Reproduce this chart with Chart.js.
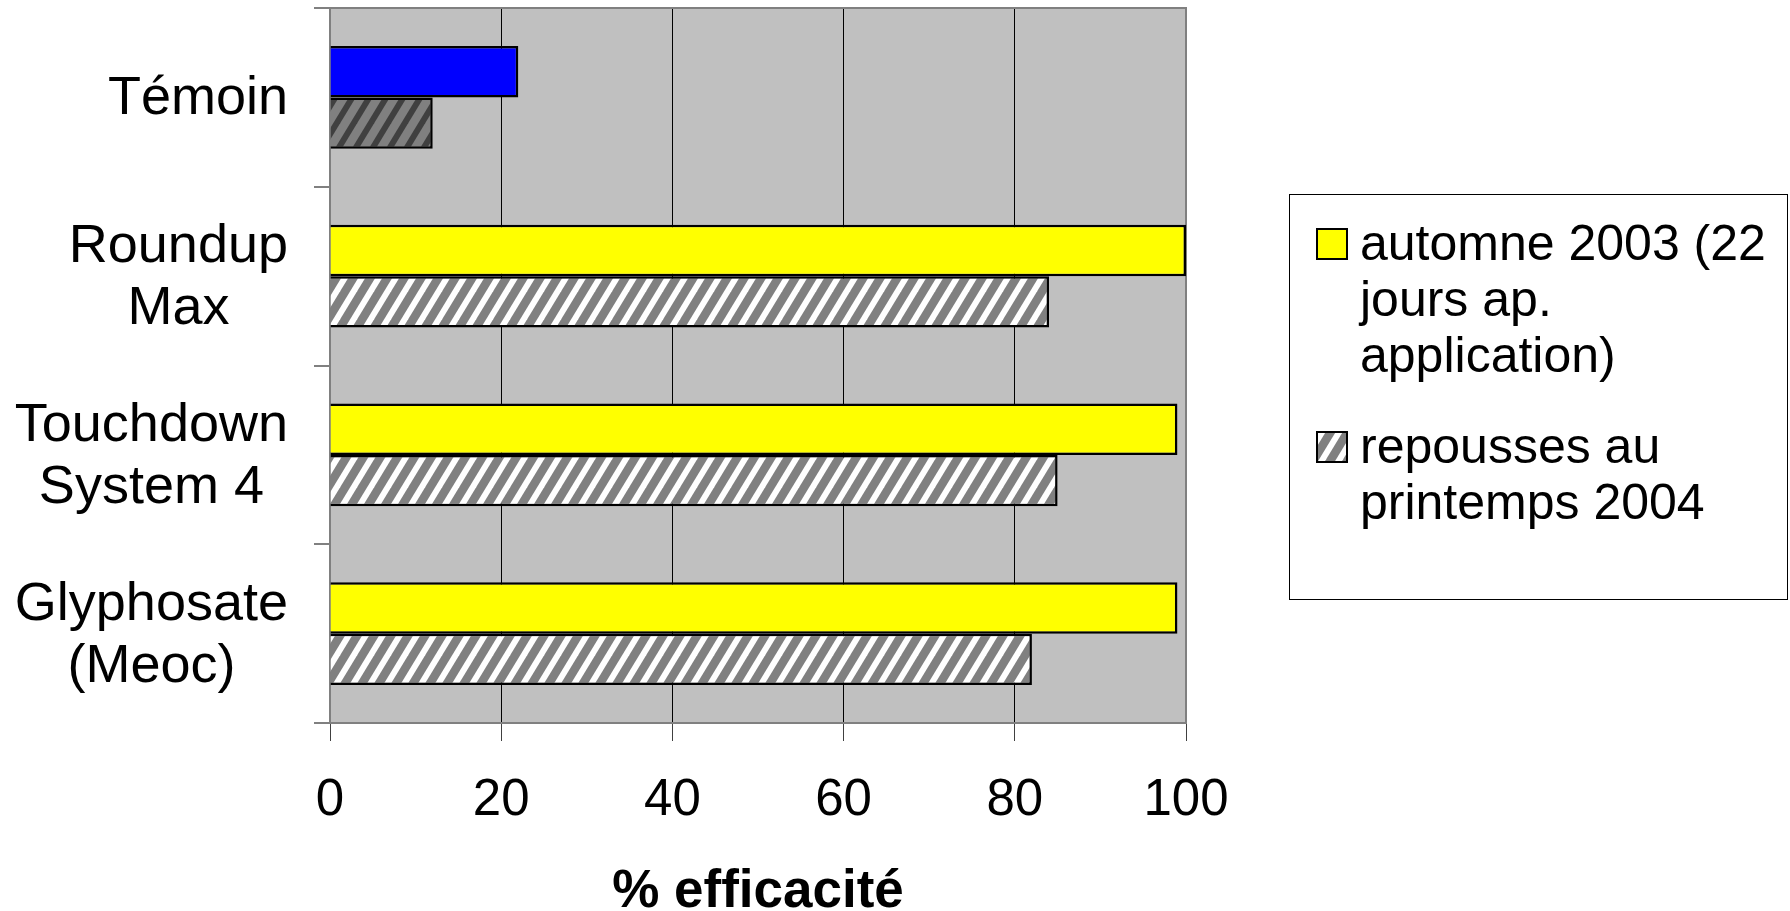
<!DOCTYPE html>
<html>
<head>
<meta charset="utf-8">
<script src="https://cdn.jsdelivr.net/npm/chart.js@4"></script>
<style>
    html, body { margin: 0; padding: 0; background: #fff; }
    #wrap { width: 1790px; height: 911px; }
</style>
</head>
<body>
<div id="wrap"><canvas id="effChart"></canvas></div>
<script>
// Données
const categories = [['Témoin'], ['Roundup', 'Max'], ['Touchdown', 'System 4'], ['Glyphosate', '(Meoc)']];
const automne2003 = [22, 100, 99, 99];
const printemps2004 = [12, 84, 85, 82];
const seriesLabels = [['automne 2003 (22', 'jours ap.', 'application)'], ['repousses au', 'printemps 2004']];
const xTicks = [0, 20, 40, 60, 80, 100];
const xTitle = '% efficacité';

const FONT = '"Liberation Sans", Arial, sans-serif';

/**
 * Motif hachuré (diagonales montantes)
 */
function makeHatch(base, stripe) {
    const w = 17, h = 28, s = 7;
    const c = document.createElement('canvas');
    c.width = w;
    c.height = h;
    const g = c.getContext('2d');
    g.fillStyle = base;
    g.fillRect(0, 0, w, h);
    g.fillStyle = stripe;
    [0, -w].forEach(dx => {
        g.beginPath();
        g.moveTo(dx, h);
        g.lineTo(dx + s, h);
        g.lineTo(dx + w + s, 0);
        g.lineTo(dx + w, 0);
        g.closePath();
        g.fill();
    });
    return g.createPattern(c, 'repeat');
}

const hatchLight = makeHatch('#808080', '#ffffff');
const hatchDark = makeHatch('#808080', '#404040');

// Fond gris de la zone de tracé + cadre
const plotArea = {
    id: 'plotArea',
    beforeDraw(chart) {
        const { ctx, chartArea: a } = chart;
        ctx.save();
        ctx.fillStyle = '#C0C0C0';
        ctx.fillRect(a.left, a.top, a.right - a.left, a.bottom - a.top);
        ctx.restore();
    },
    beforeDatasetsDraw(chart) {
        const { ctx, chartArea: a } = chart;
        ctx.save();
        ctx.strokeStyle = '#808080';
        ctx.lineWidth = 2;
        ctx.beginPath();
        ctx.moveTo(a.left - 16, a.top);
        ctx.lineTo(a.right, a.top);
        ctx.lineTo(a.right, a.bottom);
        ctx.stroke();
        ctx.restore();
    },
};

// Libellés des catégories, centrés ligne par ligne, bloc aligné à droite
const categoryLabels = {
    id: 'categoryLabels',
    afterDraw(chart) {
        const { ctx } = chart;
        const yScale = chart.scales.y;
        const right = chart.chartArea.left - 42;
        const lh = 62;
        ctx.save();
        ctx.font = '54px ' + FONT;
        ctx.fillStyle = '#000';
        ctx.textAlign = 'center';
        ctx.textBaseline = 'middle';
        categories.forEach((lines, i) => {
            const widths = lines.map(l => ctx.measureText(l).width);
            const cx = right - Math.max(...widths) / 2;
            const cy = yScale.getPixelForValue(i);
            lines.forEach((l, j) => {
                ctx.fillText(l, cx, cy + (j - (lines.length - 1) / 2) * lh + 2);
            });
        });
        ctx.restore();
    },
};

// Légende encadrée à droite
const boxLegend = {
    id: 'boxLegend',
    afterDraw(chart) {
        const { ctx } = chart;
        const fills = ['#FFFF00', hatchLight];
        const firstBaseline = [260, 463];
        ctx.save();
        ctx.strokeStyle = '#000';
        ctx.lineWidth = 1;
        ctx.strokeRect(1289.5, 194.5, 498, 405);
        ctx.font = '50px ' + FONT;
        ctx.fillStyle = '#000';
        ctx.textAlign = 'left';
        ctx.textBaseline = 'alphabetic';
        seriesLabels.forEach((lines, i) => {
            const by = firstBaseline[i];
            ctx.fillStyle = fills[i];
            ctx.fillRect(1317, by - 31, 30, 30);
            ctx.strokeStyle = '#000';
            ctx.lineWidth = 2;
            ctx.strokeRect(1317, by - 31, 30, 30);
            ctx.fillStyle = '#000';
            lines.forEach((l, j) => {
                ctx.fillText(l, 1360, by + j * 56);
            });
        });
        ctx.restore();
    },
};

const ctx = document.getElementById('effChart').getContext('2d');

new Chart(ctx, {
    type: 'bar',
    data: {
        labels: categories,
        datasets: [
            {
                label: seriesLabels[0].join(' '),
                data: automne2003,
                backgroundColor: ['#0000FF', '#FFFF00', '#FFFF00', '#FFFF00'],
                borderColor: '#000',
                borderWidth: 2.5,
            },
            {
                label: seriesLabels[1].join(' '),
                data: printemps2004,
                backgroundColor: [hatchDark, hatchLight, hatchLight, hatchLight],
                borderColor: '#000',
                borderWidth: 2.5,
            },
        ],
    },
    options: {
        indexAxis: 'y',
        responsive: true,
        maintainAspectRatio: false,
        animation: false,
        datasets: {
            bar: {
                categoryPercentage: 0.575,
                barPercentage: 1.0,
            },
        },
        layout: {
            padding: { top: 8, right: 604, bottom: 0, left: 0 },
        },
        plugins: {
            legend: { display: false },
            tooltip: { enabled: false },
        },
        scales: {
            x: {
                min: 0,
                max: 100,
                afterBuildTicks: (scale) => {
                    scale.ticks = xTicks.map(v => ({ value: v }));
                },
                afterFit: (scale) => { scale.height = 188; },
                border: { color: '#808080', width: 2 },
                grid: {
                    color: (c) => (c.index === 0 || c.index === xTicks.length - 1) ? '#808080' : '#000',
                    tickColor: '#404040',
                    lineWidth: 1,
                    tickLength: 18,
                },
                ticks: {
                    color: '#000',
                    padding: 29,
                    maxRotation: 0,
                    font: { family: FONT, size: 51, lineHeight: 1.2 },
                },
                title: {
                    display: true,
                    text: xTitle,
                    color: '#000',
                    padding: { top: 0, bottom: 0 },
                    font: { family: FONT, size: 53, weight: 'bold', lineHeight: 0.7 },
                },
            },
            y: {
                afterFit: (scale) => { scale.width = 330; },
                border: { color: '#808080', width: 2 },
                grid: {
                    offset: true,
                    drawOnChartArea: false,
                    color: '#808080',
                    lineWidth: 2,
                    tickLength: 16,
                },
                ticks: { display: false },
            },
        },
    },
    plugins: [plotArea, categoryLabels, boxLegend],
});
</script>
</body>
</html>
